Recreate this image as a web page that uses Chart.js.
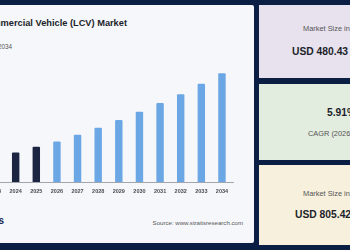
<!DOCTYPE html>
<html>
<head>
<meta charset="utf-8">
<script src="https://cdn.jsdelivr.net/npm/chart.js@4"></script>
<style>
  html,body{margin:0;padding:0;}
  body{width:350px;height:250px;position:relative;overflow:hidden;background:#0b1e43;font-family:"Liberation Sans",Arial,sans-serif;}
  .panel{position:absolute;}
  .t{position:absolute;white-space:nowrap;line-height:1;}
</style>
</head>
<body>
<div class="panel" style="left:-10px;top:5px;width:264px;height:238px;background:#f6f7fb;border-radius:2px;"></div>
<div class="panel" style="left:259px;top:5px;width:100px;height:73px;background:#e7e2ee;"></div>
<div class="panel" style="left:259px;top:84px;width:100px;height:76px;background:#e2ecdf;"></div>
<div class="panel" style="left:259px;top:165px;width:100px;height:80px;background:#f7f0dd;"></div>

<div class="t" style="right:223px;top:18.5px;font-size:9.25px;font-weight:bold;color:#1c1f2a;">Light Commercial Vehicle (LCV) Market</div>
<div class="t" style="right:338px;top:43.5px;font-size:6.3px;color:#555;">Market Size, 2022-2034</div>
<div class="t" style="right:346px;top:216px;font-size:10px;font-weight:bold;color:#1b2a4e;">Straits</div>
<div class="t" style="right:107px;top:220px;font-size:6.1px;color:#555;">Source: www.straitsresearch.com</div>

<div class="t" style="left:303px;top:24.5px;font-size:7.4px;color:#555;">Market Size in 2025</div>
<div class="t" style="left:292px;top:47px;font-size:10.3px;font-weight:bold;color:#1c1f2a;">USD 480.43 Billion</div>
<div class="t" style="left:327px;top:108px;font-size:10.3px;font-weight:bold;color:#1c1f2a;">5.91%</div>
<div class="t" style="left:308px;top:129.5px;font-size:7.4px;color:#555;">CAGR (2026-2034)</div>
<div class="t" style="left:303px;top:189.5px;font-size:7.4px;color:#555;">Market Size in 2034</div>
<div class="t" style="left:295px;top:210px;font-size:10.3px;font-weight:bold;color:#1c1f2a;">USD 805.42 Billion</div>

<canvas id="c" width="251" height="149" style="position:absolute;left:-17px;top:52px;"></canvas>
<script>
const years = ["2023","2024","2025","2026","2027","2028","2029","2030","2031","2032","2033","2034"];
const marketSize = [430, 455, 480.43, 504.5, 534, 565, 599, 636, 674, 713, 759, 805.42];
const historicalYears = ["2023","2024","2025"];
const yMin = 323, yMax = 900;

const barColors = years.map(y => historicalYears.includes(y) ? "#1b2542" : "#6ca7e5");

const baseline = {
  id: "baseline",
  afterDatasetsDraw(chart) {
    const x = chart.scales.x, ctx = chart.ctx;
    const n = years.length;
    const step = x.getPixelForValue(n - 1) - x.getPixelForValue(n - 2);
    const right = x.getPixelForValue(n - 1) + step;
    ctx.save();
    ctx.strokeStyle = "#a3a6ad";
    ctx.lineWidth = 1;
    ctx.beginPath();
    ctx.moveTo(chart.chartArea.left, Math.round(chart.chartArea.bottom) + 0.5);
    ctx.lineTo(right, Math.round(chart.chartArea.bottom) + 0.5);
    ctx.stroke();
    ctx.restore();
  }
};

new Chart(document.getElementById("c"), {
  type: "bar",
  data: {
    labels: years,
    datasets: [{
      data: marketSize,
      backgroundColor: barColors,
      categoryPercentage: 0.8,
      barPercentage: 0.45,
      borderRadius: {topLeft: 1, topRight: 1},
      borderSkipped: "bottom"
    }]
  },
  options: {
    responsive: false,
    animation: false,
    layout: {padding: 0},
    plugins: {legend: {display: false}, tooltip: {enabled: false}},
    scales: {
      y: {display: false, min: yMin, max: yMax},
      x: {
        offset: true,
        grid: {display: false, drawTicks: false},
        border: {display: false},
        ticks: {
          padding: 6,
          maxRotation: 0,
          autoSkip: false,
          color: "#4a4d55",
          font: {family: "'Liberation Sans', Arial, sans-serif", size: 5.5, weight: "bold"}
        }
      }
    }
  },
  plugins: [baseline]
});
</script>
</body>
</html>
